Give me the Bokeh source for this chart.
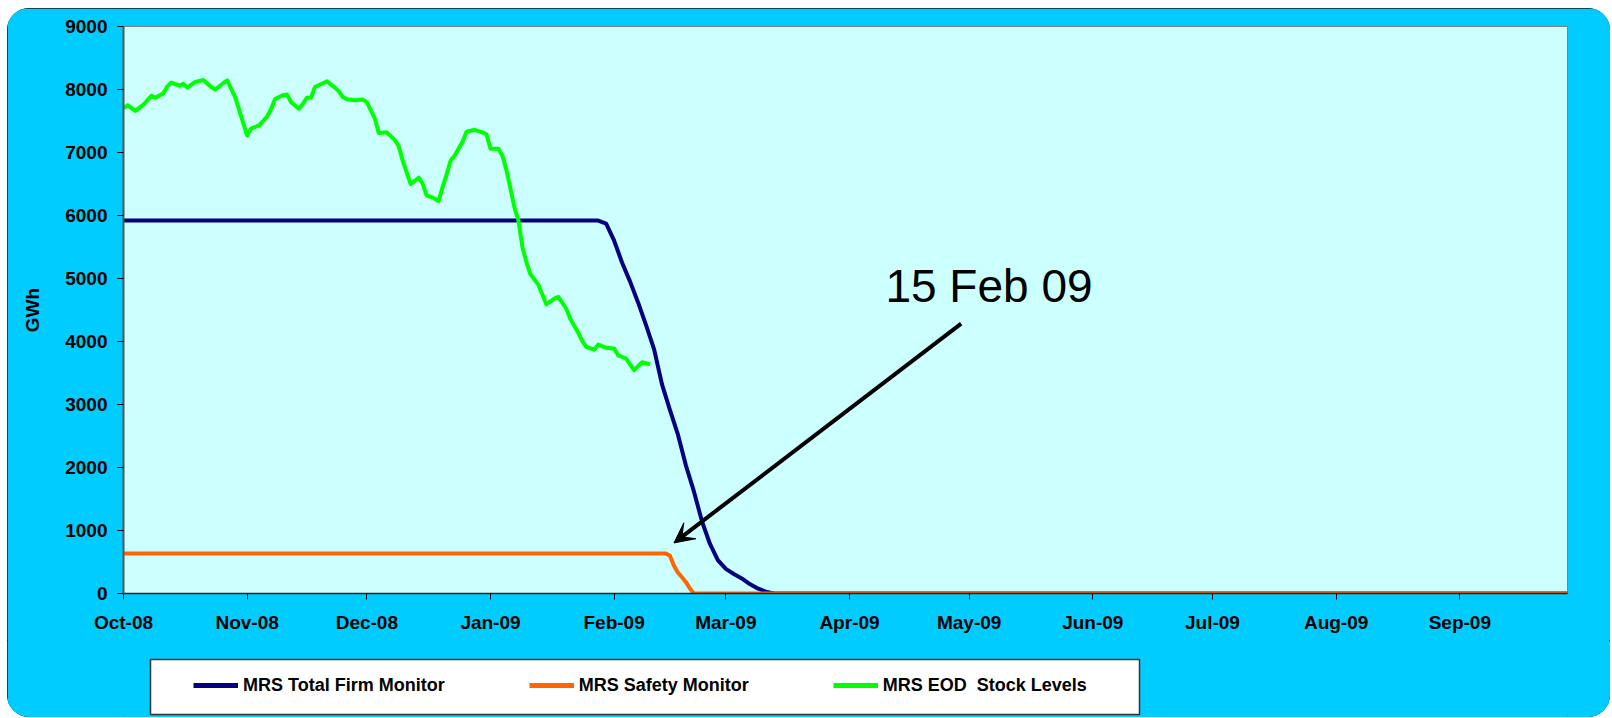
import pandas as pd
from bokeh.plotting import figure
from bokeh.layouts import column
from bokeh.models import (ColumnDataSource, FixedTicker, DatetimeTickFormatter, Legend, LegendItem,
                          Arrow, VeeHead, Label, Range1d)
from bokeh.embed import file_html
from bokeh.resources import INLINE

# ---------------- data ----------------
month_ticks = ["2008-10-01", "2008-11-01", "2008-12-01", "2009-01-01", "2009-02-01", "2009-03-01",
               "2009-04-01", "2009-05-01", "2009-06-01", "2009-07-01", "2009-08-01", "2009-09-01"]
x_start, x_end = "2008-10-01", "2009-09-28"

firm_dates = ["2008-10-01", "2009-01-28", "2009-01-30", "2009-02-01", "2009-02-03", "2009-02-05",
              "2009-02-07", "2009-02-09", "2009-02-11", "2009-02-13", "2009-02-15", "2009-02-17",
              "2009-02-19", "2009-02-21", "2009-02-23", "2009-02-25", "2009-02-27", "2009-03-01",
              "2009-03-03", "2009-03-05", "2009-03-07", "2009-03-09", "2009-03-11", "2009-03-13",
              "2009-09-28"]
firm_values = [5920, 5920, 5870, 5600, 5250, 4950,
               4620, 4260, 3880, 3320, 2910, 2520,
               2030, 1620, 1150, 790, 530, 390,
               310, 240, 150, 80, 30, 0,
               0]

safety_dates = ["2008-10-01", "2009-02-14", "2009-02-15", "2009-02-16", "2009-02-17", "2009-02-18",
                "2009-02-19", "2009-02-20", "2009-02-21", "2009-09-28"]
safety_values = [635, 635, 600, 440, 330, 260, 180, 80, 0, 0]

stock_dates = ["2008-10-01", "2008-10-02", "2008-10-04", "2008-10-06", "2008-10-08", "2008-10-09",
               "2008-10-11", "2008-10-12", "2008-10-13", "2008-10-15", "2008-10-16", "2008-10-17",
               "2008-10-19", "2008-10-21", "2008-10-23", "2008-10-24", "2008-10-26", "2008-10-27",
               "2008-10-29", "2008-10-31", "2008-11-01", "2008-11-02", "2008-11-04", "2008-11-06",
               "2008-11-07", "2008-11-08", "2008-11-10", "2008-11-11", "2008-11-12", "2008-11-14",
               "2008-11-15", "2008-11-16", "2008-11-17", "2008-11-18", "2008-11-20", "2008-11-21",
               "2008-11-23", "2008-11-24", "2008-11-25", "2008-11-26", "2008-11-28", "2008-11-30",
               "2008-12-01", "2008-12-03", "2008-12-04", "2008-12-06", "2008-12-08", "2008-12-09",
               "2008-12-10", "2008-12-11", "2008-12-12", "2008-12-14", "2008-12-15", "2008-12-16",
               "2008-12-18", "2008-12-19", "2008-12-20", "2008-12-21", "2008-12-22", "2008-12-23",
               "2008-12-25", "2008-12-26", "2008-12-28", "2008-12-30", "2008-12-31", "2009-01-01",
               "2009-01-03", "2009-01-04", "2009-01-05", "2009-01-06", "2009-01-07", "2009-01-08",
               "2009-01-09", "2009-01-10", "2009-01-11", "2009-01-13", "2009-01-15", "2009-01-17",
               "2009-01-18", "2009-01-20", "2009-01-21", "2009-01-23", "2009-01-24", "2009-01-25",
               "2009-01-27", "2009-01-28", "2009-01-30", "2009-02-01", "2009-02-02", "2009-02-04",
               "2009-02-06", "2009-02-08", "2009-02-10"]
stock_values = [7700, 7750, 7660, 7760, 7900, 7870,
                7940, 8050, 8110, 8060, 8090, 8030,
                8120, 8150, 8040, 8000, 8100, 8145,
                7880, 7470, 7270, 7380, 7430, 7570,
                7690, 7850, 7910, 7920, 7800, 7695,
                7775, 7870, 7870, 8040, 8100, 8130,
                8030, 7970, 7880, 7845, 7830, 7840,
                7800, 7540, 7310, 7320, 7200, 7100,
                6870, 6680, 6500, 6600, 6505, 6320,
                6270, 6230, 6450, 6650, 6870, 6950,
                7170, 7330, 7360, 7320, 7290, 7060,
                7060, 6950, 6720, 6430, 6130, 5920,
                5500, 5260, 5070, 4900, 4590, 4680,
                4710, 4520, 4360, 4140, 4010, 3915,
                3870, 3950, 3900, 3890, 3780, 3730,
                3545, 3670, 3640]

series_names = ["MRS Total Firm Monitor", "MRS Safety Monitor", "MRS EOD  Stock Levels"]
series_colors = ["#000080", "#FF6600", "#00FF00"]
y_ticks = [0, 1000, 2000, 3000, 4000, 5000, 6000, 7000, 8000, 9000]
annotation_text = "15 Feb 09"


def ms(d):
    return pd.Timestamp(d).timestamp() * 1000.0


FONT = "Liberation Sans"
OUTER = "#00CCFF"
BORDERS = dict(min_border_left=116, min_border_right=43)

# ---------------- main chart ----------------
p = figure(width=1603, height=632, x_axis_type="datetime",
           x_range=Range1d(ms(x_start), ms(x_end)), y_range=Range1d(0, 9000),
           output_backend="svg", toolbar_location=None,
           min_border_top=18, min_border_bottom=47, **BORDERS,
           background_fill_color="#CCFFFF", border_fill_color=OUTER)
p.outline_line_color = "#808080"
p.outline_line_width = 1
p.grid.visible = False

src_firm = ColumnDataSource(dict(x=pd.to_datetime(firm_dates), y=firm_values))
src_safe = ColumnDataSource(dict(x=pd.to_datetime(safety_dates), y=safety_values))
src_stock = ColumnDataSource(dict(x=pd.to_datetime(stock_dates), y=stock_values))

p.line("x", "y", source=src_firm, line_color=series_colors[0], line_width=4, line_join="round")
p.line("x", "y", source=src_safe, line_color=series_colors[1], line_width=4, line_join="round")
p.line("x", "y", source=src_stock, line_color=series_colors[2], line_width=4, line_join="round")

p.xaxis.ticker = FixedTicker(ticks=[ms(d) for d in month_ticks])
p.xaxis.formatter = DatetimeTickFormatter(days="%b-%y", months="%b-%y", years="%b-%y")
p.yaxis.ticker = FixedTicker(ticks=y_ticks)
for ax in (p.xaxis[0], p.yaxis[0]):
    ax.major_label_text_font = FONT
    ax.major_label_text_font_style = "bold"
    ax.major_label_text_font_size = "19px"
    ax.major_label_text_color = "#000000"
    ax.major_tick_out = 6
    ax.major_tick_in = 0
    ax.minor_tick_out = 0
    ax.minor_tick_in = 0
    ax.major_tick_line_color = "#000000"
p.xaxis.axis_line_color = "#222222"
p.xaxis.axis_line_width = 1.5
p.xaxis.major_label_standoff = 12
p.yaxis.axis_line_color = "#555555"
p.yaxis.axis_line_width = 2
p.yaxis.major_label_standoff = 10
p.yaxis.axis_label = "GWh"
p.yaxis.axis_label_text_font = FONT
p.yaxis.axis_label_text_font_style = "bold"
p.yaxis.axis_label_text_font_size = "19px"
p.yaxis.axis_label_text_color = "#000000"
p.yaxis.axis_label_standoff = 19

p.add_layout(Arrow(end=VeeHead(size=20, fill_color="black", line_color="black"),
                   x_start=ms("2009-04-29"), y_start=4284,
                   x_end=ms("2009-02-16"), y_end=803,
                   line_width=4, line_color="black"))
p.add_layout(Label(x=ms("2009-04-10"), y=4888, text=annotation_text,
                   text_font=FONT, text_font_size="46px", text_color="black",
                   text_baseline="alphabetic"))

# ---------------- legend strip below the chart ----------------
q = figure(width=1603, height=77, x_range=Range1d(0, 1444), y_range=Range1d(0, 77),
           output_backend="svg", toolbar_location=None,
           x_axis_location=None, y_axis_location=None,
           min_border_top=0, min_border_bottom=0, **BORDERS,
           background_fill_color=OUTER, border_fill_color=OUTER)
q.grid.visible = False
q.outline_line_color = None
# white legend box
q.quad(left=27, right=1016, bottom=3, top=58, fill_color="white",
       line_color="#333333", line_width=1.5)
swatches = [q.line(x=[-200, -100], y=[-50, -50], line_color=c, line_width=5) for c in series_colors]
legend = Legend(items=[LegendItem(label=n, renderers=[r]) for n, r in zip(series_names, swatches)],
                orientation="horizontal", location=(70, 20),
                background_fill_alpha=0, border_line_alpha=0,
                label_text_font=FONT, label_text_font_style="bold",
                label_text_font_size="18px", label_text_color="#000000",
                glyph_width=45, glyph_height=24, label_height=24,
                label_standoff=5, spacing=84, padding=0, margin=0)
q.add_layout(legend)

layout = column(p, q, spacing=0)
layout.styles = {"margin-left": "7px", "margin-top": "8px", "background-color": OUTER,
                 "border-radius": "22px", "overflow": "hidden",
                 "outline": "1.5px solid #1a1a1a", "outline-offset": "-1.5px"}

open("out.html", "w").write(file_html(layout, INLINE))
